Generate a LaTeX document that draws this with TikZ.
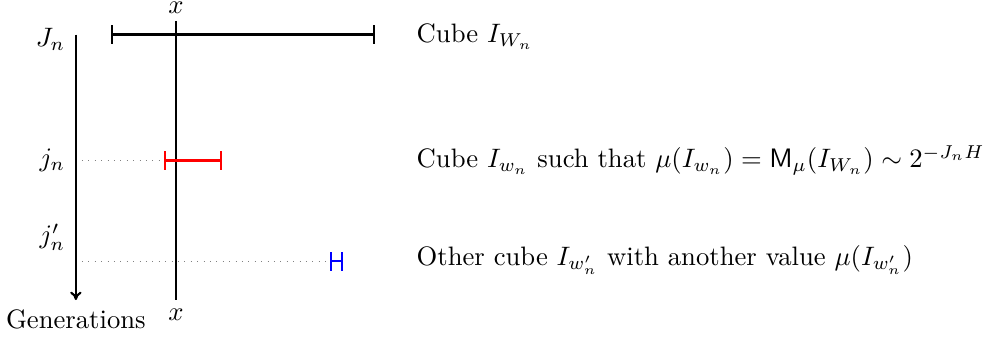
\documentclass[tikz,border=0pt]{standalone}
\usetikzlibrary{arrows.meta}

\begin{document}
\begin{tikzpicture}[
  >={To[length=1.1mm,width=1.5mm]},
  % generation axis and the vertical line through the point x
  axis/.style={->,thick},
  vline/.style={thick},
  cube/.style={{Bar[width=7pt]}-{Bar[width=7pt]},thick},
  lvl/.style={dotted,gray,line width=0.4pt},
  gen/.style={anchor=east,inner sep=3pt},
  note/.style={anchor=west,inner sep=3pt},
]
\useasboundingbox (0,0) rectangle (13.01,4.455);

% ------------------------------------------------------------------ axes
\coordinate (gtop) at (1.0,4.0);
\coordinate (gbot) at (1.0,0.5);
\coordinate (xtop) at (2.32,4.18);
\coordinate (xbot) at (2.32,0.5);

\draw[axis]  (gtop) -- (gbot);
\draw[vline] (xtop) -- (xbot);

\node[anchor=south,inner sep=2.6pt] (xup) at (xtop) {$x$};
\node[anchor=north] (xdn)  at (xbot) {$x$};
\node[anchor=north] (gens) at (gbot) {Generations};

% ------------------------------------------------------------- generations
\node[gen] (Jn)  at (0.97,3.94) {$J_n$};
\node[gen] (jn)  at (0.97,2.34) {$j_n$};
\node[gen] (jpn) at (0.97,1.33) {$j'_n$};

\coordinate (ljn)  at (1.08,2.34);
\coordinate (ljpn) at (1.08,1.01);

% ------------------------------------------------------------------ cubes
\coordinate (W1) at (1.46,4.0);
\coordinate (W2) at (4.94,4.0);
\coordinate (w1) at (2.16,2.34);
\coordinate (w2) at (2.93,2.34);
\coordinate (v1) at (4.35,1.01);
\coordinate (v2) at (4.52,1.01);

\draw[cube]          (W1) -- (W2);
\draw[cube,red]      (w1) -- (w2);
\draw[cube,blue]     (v1) -- (v2);

\draw[lvl] (ljn)  -- (w1);
\draw[lvl] (ljpn) -- (v1);

% ------------------------------------------------------------ annotations
\node[note] (tW) at (5.38,3.97) {Cube $I_{W_n}$};
\node[note] (tw) at (5.38,2.34)
  {Cube $I_{w_n}$ such that $\mu(I_{w_n})=\mathsf{M}_\mu(I_{W_n})\sim 2^{-J_nH}$};
\node[note] (tv) at (5.38,1.03)
  {Other cube $I_{w'_n}$ with another value $\mu(I_{w'_n})$};

\end{tikzpicture}
\end{document}
